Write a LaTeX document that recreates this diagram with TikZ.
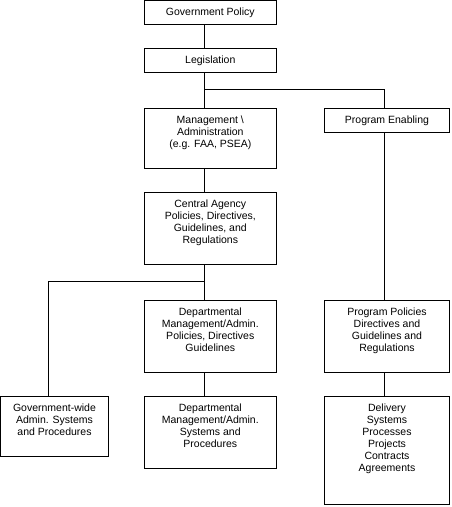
\documentclass[tikz,border=0pt]{standalone}
\usepackage{fontspec}
\setmainfont{Liberation Sans}
\newcommand{\bxtext}[3]{\parbox[c][#2][t]{#1}{\centering\rule{0pt}{15pt}#3\par}}
\begin{document}
\begin{tikzpicture}[x=1pt,y=-1pt,
  bx/.style={draw,line width=1pt,inner sep=0pt,outer sep=0pt,anchor=north west,font=\fontsize{10.5}{12}\selectfont},
  cn/.style={line width=1pt}]
\useasboundingbox (0,0) rectangle (452,507);
\node[bx] (gp) at (144.3,0.5) {\bxtext{132pt}{24pt}{Government Policy}};
\node[bx] (leg) at (144.3,48.3) {\bxtext{132pt}{24pt}{Legislation}};
\node[bx] (mgmt) at (144.3,108.3) {\bxtext{132pt}{60pt}{Management \textbackslash\\Administration\\(e.g. FAA, PSEA)}};
\node[bx] (pe) at (324.3,108.3) {\bxtext{125.4pt}{24pt}{Program Enabling}};
\node[bx] (ca) at (144.3,192.3) {\bxtext{132pt}{72pt}{Central Agency\\Policies, Directives,\\Guidelines, and\\Regulations}};
\node[bx] (dep1) at (144.3,300.3) {\bxtext{132pt}{72pt}{Departmental\\Management/Admin.\\Policies, Directives\\Guidelines}};
\node[bx] (pp) at (324.3,300.3) {\bxtext{125.4pt}{72pt}{Program Policies\\Directives and\\Guidelines and\\Regulations}};
\node[bx] (gw) at (0.5,396.3) {\bxtext{108pt}{60pt}{Government-wide\\Admin. Systems\\and Procedures}};
\node[bx] (dep2) at (144.3,396.3) {\bxtext{132pt}{72pt}{Departmental\\Management/Admin.\\Systems and\\Procedures}};
\node[bx] (del) at (324.3,396.3) {\bxtext{125.4pt}{108pt}{Delivery\\Systems\\Processes\\Projects\\Contracts\\Agreements}};
\coordinate (t) at (204.3,0);
\coordinate (px) at (384.3,0);
\coordinate (lx) at (48.7,0);
\coordinate (j1) at (204.3,89.3);
\coordinate (k1) at (384.3,89.3);
\coordinate (j2) at (204.3,281.3);
\coordinate (k2) at (48.7,281.3);
\draw[cn] (gp.south -| t) -- (leg.north -| t);
\draw[cn] (leg.south -| t) -- (mgmt.north -| t);
\draw[cn] (j1) -- (k1) -- (pe.north -| px);
\draw[cn] (mgmt.south -| t) -- (ca.north -| t);
\draw[cn] (ca.south -| t) -- (dep1.north -| t);
\draw[cn] (j2) -- (k2) -- (gw.north -| lx);
\draw[cn] (dep1.south -| t) -- (dep2.north -| t);
\draw[cn] (pe.south -| px) -- (pp.north -| px);
\draw[cn] (pp.south -| px) -- (del.north -| px);
\end{tikzpicture}
\end{document}
